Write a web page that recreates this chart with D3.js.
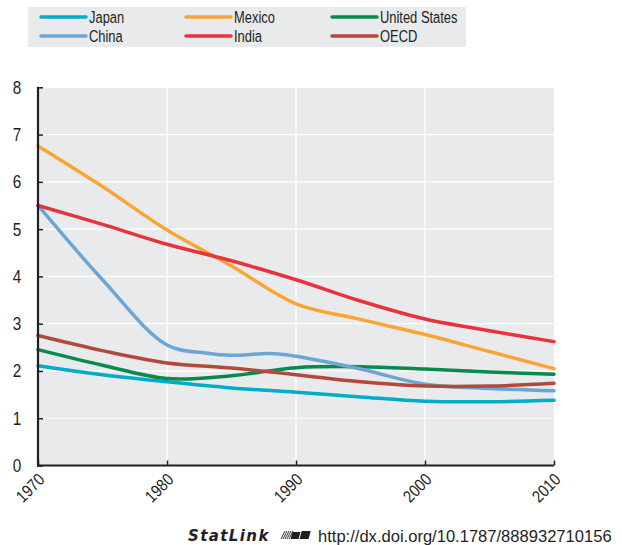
<!DOCTYPE html>
<html><head><meta charset="utf-8">
<script src="https://cdn.jsdelivr.net/npm/d3@7"></script>
<style>body{margin:0;background:#fff}svg{display:block}</style>
</head><body>
<svg id="c" width="622" height="545"></svg>
<script>
const years = [1970,1975,1980,1985,1990,1995,2000,2005,2010];
const chinaYears = [1970,1975,1980,1983,1985,1988,1990,1995,2000,2005,2010];
const seriesNames = ["Japan","Mexico","United States","China","India","OECD"];
const japan  = [2.11,1.92,1.77,1.64,1.55,1.45,1.36,1.35,1.38];
const mexico = [6.76,5.90,4.98,4.22,3.42,3.09,2.77,2.41,2.05];
const usa    = [2.45,2.12,1.84,1.90,2.07,2.09,2.04,1.98,1.93];
const china  = [5.50,3.93,2.55,2.38,2.33,2.37,2.31,2.04,1.72,1.63,1.58];
const india  = [5.50,5.10,4.68,4.33,3.93,3.48,3.10,2.85,2.62];
const oecd   = [2.75,2.43,2.17,2.06,1.92,1.77,1.68,1.68,1.74];
const yTicks = [0,1,2,3,4,5,6,7,8];
const xTicks = [1970,1980,1990,2000,2010];
const colors = ["#00acc8","#f9a533","#078a4e","#6ca6d4","#e8323c","#b24a3c"];
const values = [japan,mexico,usa,china,india,oecd];
const yearSets = [years,years,years,chinaYears,years,years];

const svg = d3.select("#c");
const font = "'Liberation Sans',Arial,sans-serif";
const x = d3.scaleLinear().domain([1970,2010]).range([38,554]);
const y = d3.scaleLinear().domain([0,8]).range([465.5,87.3]);

function ctext(tx,ty,str,size,sx){
  return svg.append("text").attr("transform",`translate(${tx},${ty}) scale(${sx},1)`)
    .text(str).attr("font-family",font).attr("font-size",size).attr("fill","#231f20");
}

// legend
svg.append("rect").attr("x",28).attr("y",7).attr("width",438).attr("height",40).attr("fill","#e9eaec");
const legPos = [[41,17],[186,17],[332,17],[41,36],[186,36],[332,36]];
seriesNames.forEach((n,i)=>{
  const [lx,ly]=legPos[i];
  svg.append("line").attr("x1",lx).attr("x2",lx+45).attr("y1",ly).attr("y2",ly)
    .attr("stroke",colors[i]).attr("stroke-width",3.5).attr("stroke-linecap","round");
  ctext(lx+48,ly+6,n,17,0.76);
});

// plot bg
svg.append("rect").attr("x",x(1970)).attr("y",y(8)).attr("width",x(2010)-x(1970)).attr("height",y(0)-y(8)).attr("fill","#e9eaec");
// grid
svg.append("g").selectAll("line").data(yTicks.filter(d=>d>0)).join("line")
  .attr("x1",x(1970)).attr("x2",x(2010)).attr("y1",d=>y(d)).attr("y2",d=>y(d))
  .attr("stroke","#fff").attr("stroke-width",1.2);
svg.append("g").selectAll("line").data(xTicks.filter(d=>d>1970&&d<2010)).join("line")
  .attr("x1",d=>x(d)).attr("x2",d=>x(d)).attr("y1",y(0)).attr("y2",y(8))
  .attr("stroke","#fff").attr("stroke-width",1.2);

// lines
values.forEach((v,i)=>{
  const yr = yearSets[i];
  const line = d3.line().x((d,j)=>x(yr[j])).y(d=>y(d)).curve(d3.curveCatmullRom.alpha(0.5));
  svg.append("path").attr("d",line(v)).attr("fill","none").attr("stroke",colors[i])
    .attr("stroke-width",3.5).attr("stroke-linecap","round");
});

// axes
const yAxis = d3.axisRight(y).tickValues(yTicks).tickSize(5).tickFormat(d3.format("d"));
const gy = svg.append("g").attr("transform",`translate(${x(1970)},0)`).call(yAxis);
gy.select(".domain").remove();
gy.selectAll(".tick line").attr("stroke","#231f20").attr("stroke-width",1.5);
gy.selectAll(".tick text").attr("x",0).attr("dy",0).attr("transform",`translate(-21,6) scale(0.85,1)`)
  .attr("text-anchor","middle")
  .attr("font-family",font).attr("font-size",18).attr("fill","#231f20");
svg.append("line").attr("x1",x(1970)).attr("x2",x(1970)).attr("y1",y(8)-0.5).attr("y2",y(0)+1)
  .attr("stroke","#231f20").attr("stroke-width",2.2);

const xAxis = d3.axisTop(x).tickValues(xTicks).tickSize(5).tickFormat(d3.format("d"));
const gx = svg.append("g").attr("transform",`translate(0,${y(0)})`).call(xAxis);
gx.select(".domain").remove();
gx.selectAll(".tick line").attr("stroke","#231f20").attr("stroke-width",1.5);
gx.selectAll(".tick text").attr("y",0).attr("dy",0)
  .attr("transform","translate(4,12) rotate(-45) scale(0.85,1)").attr("text-anchor","end").attr("dominant-baseline","middle")
  .attr("font-family",font).attr("font-size",17).attr("fill","#231f20");
svg.append("line").attr("x1",x(1970)-1).attr("x2",x(2010)).attr("y1",y(0)).attr("y2",y(0))
  .attr("stroke","#231f20").attr("stroke-width",2.2);

// footer
svg.append("text").attr("x",188).attr("y",541).text("StatLink")
  .attr("font-family","'DejaVu Sans',sans-serif").attr("font-style","italic").attr("font-weight","bold")
  .attr("font-size",15).attr("fill","#231f20").attr("letter-spacing",1.4);
const logo = svg.append("g").attr("transform","translate(281,530)");
for(let k=0;k<5;k++){
  logo.append("line").attr("x1",k*2).attr("x2",k*2+4).attr("y1",9).attr("y2",1).attr("stroke","#231f20").attr("stroke-width",0.9);
}
logo.append("rect").attr("x",12).attr("y",2).attr("width",8).attr("height",7).attr("fill","#231f20").attr("transform","skewX(-15)");
logo.append("rect").attr("x",21).attr("y",1).attr("width",9).attr("height",8).attr("fill","#231f20").attr("transform","skewX(-15)");
ctext(318,542,"http://dx.doi.org/10.1787/888932710156",17,0.975);
</script>
</body></html>
